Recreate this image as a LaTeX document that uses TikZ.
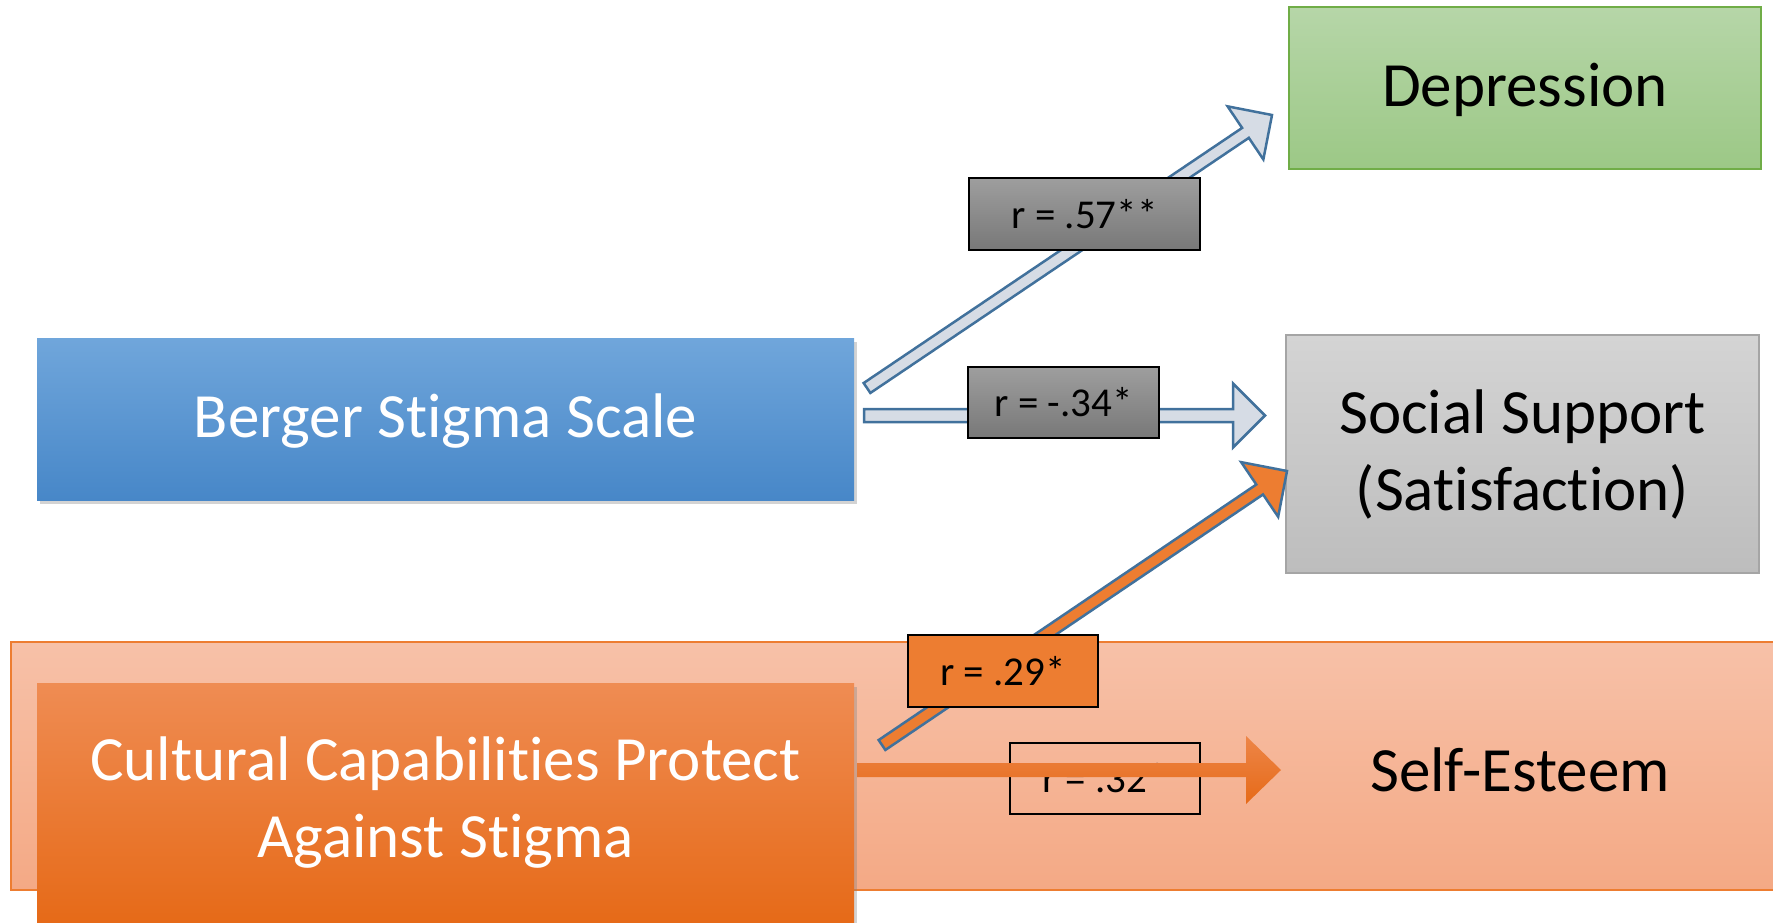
\documentclass[tikz,border=0pt]{standalone}
\usepackage{fontspec}
\setmainfont{Carlito}[Ligatures=NoCommon]
\usetikzlibrary{calc,shadows}

\definecolor{bergertop}{HTML}{70A6DB}
\definecolor{bergerbot}{HTML}{4787C8}
\definecolor{culttop}{HTML}{EF8C53}
\definecolor{cultbot}{HTML}{E66A18}
\definecolor{deptop}{HTML}{B6D6A8}
\definecolor{depbot}{HTML}{9CC886}
\definecolor{depedge}{HTML}{70AD47}
\definecolor{suptop}{HTML}{D4D4D4}
\definecolor{supbot}{HTML}{BDBDBD}
\definecolor{supedge}{HTML}{A5A5A5}
\definecolor{bandtop}{HTML}{F7C1A8}
\definecolor{bandbot}{HTML}{F4A985}
\definecolor{bandedge}{HTML}{ED7D31}
\definecolor{linkfill}{HTML}{D6DCE5}
\definecolor{linkedge}{HTML}{41719C}
\definecolor{orangefill}{HTML}{ED7D31}
\definecolor{rtop}{HTML}{9E9E9E}
\definecolor{rbot}{HTML}{787878}

\newcommand{\blockarrow}[6][]{%
	\coordinate (hb) at ($(#3)!#6!(#2)$);
	\path[#1] ($(#2)!#4!90:(#3)$) -- ($(hb)!#4!-90:(#2)$) -- ($(hb)!#5!-90:(#2)$) -- (#3)
		-- ($(hb)!#5!90:(#2)$) -- ($(hb)!#4!90:(#2)$) -- ($(#2)!#4!-90:(#3)$) -- cycle;}

\begin{document}
\begin{tikzpicture}[x=1pt,y=-1pt]
			\tikzstyle{box}=[rectangle,inner sep=0pt,align=center,font=\fontsize{63}{77}\selectfont]
			\tikzstyle{oneline}=[text height=42pt,text depth=5pt]
			\tikzstyle{rbox}=[rectangle,draw=black,line width=2.8pt,inner sep=0pt,font=\fontsize{41}{49}\selectfont]
			\tikzstyle{link}=[draw=linkedge,line width=2.5pt,line join=miter]
			\useasboundingbox (0,0) rectangle (1773,923);
			\clip (0,0) rectangle (1773,923);
			\node[rectangle,draw=bandedge,line width=2pt,top color=bandtop,bottom color=bandbot,minimum width=1779pt,minimum height=248pt] (band) at (900.5,766) {};
			\node[box] (esteem) at (1520,770) {Self-Esteem};
			\node[box,draw=supedge,line width=2.5pt,top color=suptop,bottom color=supbot,minimum width=473pt,minimum height=238pt] (support) at (1522.5,454) {Social Support\\(Satisfaction)};
			\node[box,oneline,draw=depedge,line width=2.5pt,top color=deptop,bottom color=depbot,minimum width=472pt,minimum height=162pt] (depression) at (1525,88) {Depression};
			\node[box,oneline,text=white,top color=bergertop,bottom color=bergerbot,minimum width=817pt,minimum height=162pt,drop shadow={shadow xshift=3pt,shadow yshift=-4pt,opacity=.35}] (berger) at (445.5,419) {Berger Stigma Scale};
			\coordinate (s1) at (867,388);
			\coordinate (t1) at (1272,115);
			\coordinate (s2) at (864,415.5);
			\coordinate (t2) at (1265,415.5);
			\coordinate (s3) at (882,745);
			\coordinate (t3) at (1287,471);
			\coordinate (s4) at (857,770);
			\coordinate (t4) at (1281,770);
			\blockarrow[link,fill=linkfill]{s1}{t1}{6pt}{32pt}{32pt}
			\blockarrow[link,fill=linkfill]{s2}{t2}{6.5pt}{32pt}{32pt}
			\blockarrow[link,fill=orangefill]{s3}{t3}{6pt}{33pt}{33pt}
			\node[rbox,top color=rtop,bottom color=rbot,minimum width=231pt,minimum height=72pt] (r1) at (1084.5,214) {r = .57**};
			\node[rbox,top color=rtop,bottom color=rbot,minimum width=191pt,minimum height=71pt] (r2) at (1063.5,402.5) {r = -.34*};
			\node[rbox,fill=orangefill,minimum width=190pt,minimum height=72pt] (r3) at (1003,671) {r = .29*};
			\node[box,text=white,top color=culttop,bottom color=cultbot,minimum width=817pt,minimum height=240pt,drop shadow={shadow xshift=3pt,shadow yshift=-4pt,opacity=.35}] (cultural) at (445.5,803) {Cultural Capabilities Protect\\Against Stigma};
			\node[rbox,minimum width=190pt,minimum height=71pt] (r4) at (1105,778.5) {r = .32*};
			\blockarrow[top color=culttop!80!cultbot,bottom color=cultbot]{s4}{t4}{7pt}{34pt}{35pt}
			\end{tikzpicture}
\end{document}
